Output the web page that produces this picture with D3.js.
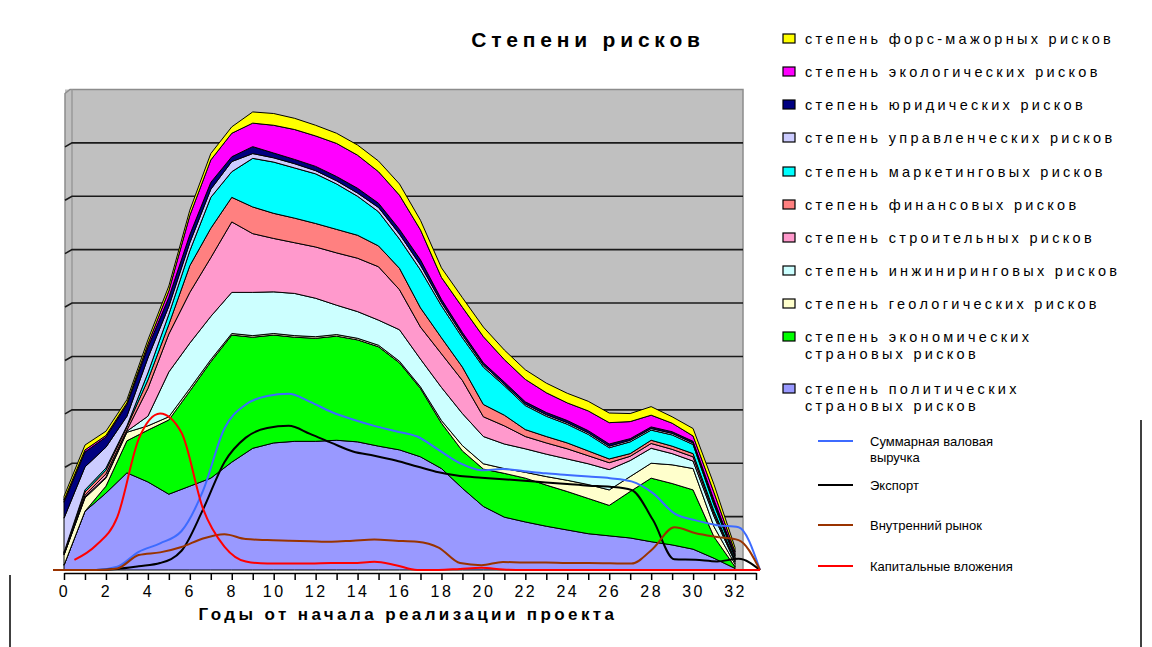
<!DOCTYPE html>
<html>
<head>
<meta charset="utf-8">
<script src="https://cdn.jsdelivr.net/npm/d3@7"></script>
<style>
	body{margin:0;background:#fff;}
	svg{display:block;font-family:"Liberation Sans",Arial,sans-serif;}
</style>
</head>
<body>
<svg id="chart" width="1152" height="647"></svg>
<script>
// years 0..32 for the stacked areas
const years = d3.range(0, 33);

const political    = [0.9, 11.0, 14.4, 18.2, 16.5, 14.2, 15.7, 17.2, 20.2, 22.8, 23.8, 24.1, 24.1, 24.3, 24.0, 23.2, 22.5, 21.2, 19.0, 15.3, 11.9, 9.9, 9.0, 8.2, 7.5, 6.8, 6.4, 6.0, 5.3, 4.7, 3.9, 2.2, 0.3];
const economic     = [0, 0, 1.3, 6.0, 9.7, 13.9, 17.8, 21.8, 23.8, 20.8, 20.2, 19.5, 19.3, 19.5, 19.1, 18.6, 16.3, 12.8, 8.5, 7.0, 7.0, 8.2, 8.2, 7.7, 7.2, 6.6, 5.7, 8.7, 11.9, 11.5, 11.1, 4.0, 0.3];
const geological   = [1.9, 2.5, 1.5, 1.6, 0.8, 0.6, 0.5, 0.4, 0.3, 0.3, 0.3, 0.3, 0.3, 0.3, 0.3, 0.3, 0.3, 0.3, 0.5, 1.0, 1.0, 0.9, 1.1, 1.6, 2.1, 2.6, 2.9, 2.8, 2.8, 3.5, 4.0, 1.9, 0.5];
const engineering  = [0.1, 0.2, 0.2, 0.2, 1.8, 8.4, 8.5, 8.1, 7.7, 8.1, 7.8, 7.9, 7.2, 5.5, 5.0, 4.7, 5.9, 5.2, 6.2, 6.0, 5.1, 4.6, 4.4, 4.2, 4.0, 3.9, 3.8, 3.0, 2.8, 2.1, 1.4, 1.9, 0.4];
const construction = [0.1, 0.3, 0.6, 0.2, 5.2, 7.1, 9.5, 11.0, 13.2, 11.0, 10.0, 9.5, 9.6, 9.8, 10.0, 10.0, 7.5, 6.0, 6.3, 6.2, 3.7, 3.4, 2.3, 2.1, 1.9, 1.5, 1.3, 0.8, 0.9, 0.8, 0.8, 0.5, 0.2];
const financial    = [0.2, 0.6, 0.7, 0.6, 1.6, 1.8, 5.0, 5.5, 4.6, 5.0, 4.7, 4.6, 4.4, 4.4, 4.3, 3.9, 4.0, 3.6, 3.0, 2.5, 2.3, 2.0, 1.3, 1.2, 1.1, 0.9, 0.7, 0.5, 0.6, 0.6, 0.6, 0.5, 0.2];
const marketing    = [0.1, 0.4, 0.4, 0.2, 1.3, 1.9, 2.8, 5.8, 4.8, 9.1, 9.6, 9.4, 9.3, 8.5, 7.3, 6.4, 5.5, 7.1, 6.0, 5.5, 7.0, 5.5, 4.5, 3.8, 3.5, 3.1, 2.1, 2.2, 1.9, 2.1, 1.7, 1.2, 0.4];
const managerial   = [6.4, 4.3, 3.9, 1.8, 2.8, 1.5, 1.5, 1.5, 1.9, 0.9, 0.8, 0.8, 0.6, 0.6, 0.6, 0.8, 0.9, 0.9, 0.6, 0.5, 0.4, 0.3, 0.3, 0.3, 0.3, 0.3, 0.3, 0.3, 0.3, 0.3, 0.3, 0.4, 0.3];
const legal        = [3.0, 2.8, 1.9, 2.2, 2.0, 1.7, 1.5, 1.3, 0.9, 1.3, 0.9, 0.8, 0.8, 0.8, 0.9, 0.8, 0.9, 1.0, 0.6, 0.5, 0.4, 0.4, 0.4, 0.4, 0.4, 0.4, 0.4, 0.3, 0.3, 0.3, 0.3, 0.5, 0.3];
const ecological   = [0.4, 0.4, 0.3, 0.3, 0.6, 1.2, 3.6, 4.2, 4.4, 4.4, 5.2, 5.6, 5.7, 6.2, 6.2, 5.9, 6.4, 5.6, 4.1, 4.7, 4.9, 4.2, 4.2, 3.7, 3.3, 3.7, 4.0, 3.2, 2.2, 1.6, 1.0, 1.4, 0.5];
const forceMajeure = [0.7, 0.9, 0.8, 0.6, 0.8, 0.9, 1.0, 1.2, 1.2, 2.1, 2.2, 2.1, 2.0, 1.9, 1.9, 2.0, 2.1, 1.8, 1.8, 1.8, 1.8, 1.8, 1.8, 1.8, 1.8, 1.8, 1.8, 1.5, 1.6, 1.2, 1.4, 1.5, 0.8];

// line series, on their own category positions 0..33
const linePoints = d3.range(0, 34);
const revenue  = [0, 0, 0, 0.6, 3.4, 5.0, 7.3, 14.8, 26.5, 31.0, 32.6, 33.0, 31.5, 29.6, 28.2, 27.0, 26.0, 25.0, 22.5, 20.0, 18.7, 18.9, 18.5, 18.1, 17.8, 17.5, 17.2, 16.6, 14.4, 10.6, 9.3, 8.4, 8.0, 0];
const exports  = [0, 0, 0, 0.2, 0.7, 1.3, 3.6, 11.3, 20.2, 24.8, 26.6, 27.0, 25.5, 23.8, 22.2, 21.4, 20.5, 19.4, 18.3, 17.6, 17.3, 17.0, 16.7, 16.4, 16.1, 15.8, 15.6, 15.0, 9.4, 2.0, 1.9, 1.6, 2.1, 0];
const domestic = [0, 0, 0, 0.3, 2.8, 3.3, 4.3, 5.9, 6.7, 5.8, 5.6, 5.5, 5.4, 5.3, 5.5, 5.7, 5.5, 5.3, 4.2, 1.3, 0.9, 1.5, 1.4, 1.4, 1.3, 1.3, 1.25, 1.2, 4.0, 8.0, 6.9, 6.2, 5.6, 0];
const capital  = [null, 1.9, 4.6, 9.9, 24.5, 29.3, 25.7, 11.5, 4.4, 1.6, 1.2, 1.2, 1.2, 1.3, 1.3, 1.55, 0.9, 0, 0, 0.2, 0.4, 0.1, 0, 0, 0, 0, 0, 0, 0, 0, 0, 0, 0, 0];

const xTicks = d3.range(0, 34);
const xLabels = d3.range(0, 33, 2);
const gridValues = [10, 20, 30, 40, 50, 60, 70, 80];

const seriesKeys   = ["political", "economic", "geological", "engineering", "construction", "financial", "marketing", "managerial", "legal", "ecological", "forceMajeure"];
const seriesValues = [political, economic, geological, engineering, construction, financial, marketing, managerial, legal, ecological, forceMajeure];
const seriesColors = ["#9999FF", "#00FF00", "#FFFFCC", "#CCFFFF", "#FF99CC", "#FF8080", "#00FFFF", "#CCCCFF", "#000080", "#FF00FF", "#FFFF00"];
const seriesLabels = [
	["степень политических", "страновых рисков"],
	["степень экономических", "страновых рисков"],
	["степень геологических рисков"],
	["степень инжиниринговых рисков"],
	["степень строительных рисков"],
	["степень финансовых рисков"],
	["степень маркетинговых рисков"],
	["степень управленческих рисков"],
	["степень юридических рисков"],
	["степень экологических рисков"],
	["степень форс-мажорных рисков"]
];

const lineSeries = [
	{values: revenue,  color: "#3D6BFF", label: ["Суммарная валовая", "выручка"]},
	{values: exports,  color: "#000000", label: ["Экспорт"]},
	{values: domestic, color: "#993300", label: ["Внутренний рынок"]},
	{values: capital,  color: "#FF0000", label: ["Капитальные вложения"]}
];

const svg = d3.select("#chart");

const x = d3.scaleLinear().domain([0, 33]).range([64, 756]);
const xLine = d3.scaleLinear().domain([0, 33]).range([53, 760]);
const y = d3.scaleLinear().domain([0, 90]).range([570, 89.5]);

const plot = {left: 65, wall: 72, right: 743};

// plot background with left wall
svg.append("rect")
	.attr("x", plot.left).attr("y", y(90))
	.attr("width", plot.right - plot.left).attr("height", y(0) - y(90))
	.attr("fill", "#C0C0C0");
svg.append("path")
	.attr("d", `M${plot.left},${y(0)}V${y(90) + 4}L${plot.wall - 2},${y(90)}H${plot.right}V${y(0)}`)
	.attr("fill", "none").attr("stroke", "#8c8c8c").attr("stroke-width", 1.5);
svg.append("line")
	.attr("x1", plot.wall).attr("x2", plot.wall)
	.attr("y1", y(90)).attr("y2", y(0))
	.attr("stroke", "#9a9a9a").attr("stroke-width", 1.5);

// gridlines
svg.append("g").selectAll("path")
	.data(gridValues)
	.enter().append("path")
	.attr("d", d => `M${plot.left},${y(d) + 4}L${plot.wall},${y(d)}H${plot.right}`)
	.attr("fill", "none")
	.attr("stroke", "#1a1a1a")
	.attr("stroke-width", 1.6);

// stacked areas
const table = years.map((t, i) => {
	const row = {t: t};
	seriesKeys.forEach((k, j) => { row[k] = seriesValues[j][i]; });
	return row;
});
const stacked = d3.stack().keys(seriesKeys)(table);

const area = d3.area()
	.x(d => x(d.data.t))
	.y0(d => y(d[0]))
	.y1(d => y(d[1]));

svg.append("g").selectAll("path")
	.data(stacked)
	.enter().append("path")
	.attr("d", area)
	.attr("fill", (d, i) => seriesColors[i])
	.attr("stroke", "#000")
	.attr("stroke-width", 1)
	.attr("stroke-linejoin", "round");

// x axis
const xAxis = svg.append("g")
	.attr("transform", `translate(0,${y(0) + 3})`)
	.call(d3.axisBottom(x)
		.tickValues(xTicks)
		.tickSize(7)
		.tickSizeOuter(0)
		.tickPadding(6)
		.tickFormat(d => xLabels.includes(d) ? d : ""));
xAxis.select(".domain").attr("stroke", "#000").attr("stroke-width", 1.5);
xAxis.selectAll(".tick line").attr("stroke", "#000").attr("stroke-width", 1.5);
xAxis.selectAll(".tick text")
	.attr("font-size", 16)
	.attr("letter-spacing", 2.5)
	.attr("fill", "#000")
	.attr("font-family", "Liberation Sans, Arial, sans-serif");

// lines
const lineGen = d3.line()
	.defined(d => d[1] !== null)
	.x(d => xLine(d[0]))
	.y(d => y(d[1]))
	.curve(d3.curveMonotoneX);

svg.append("g").selectAll("path")
	.data(lineSeries)
	.enter().append("path")
	.attr("d", s => lineGen(linePoints.map((p, i) => [p, s.values[i]])))
	.attr("fill", "none")
	.attr("stroke", s => s.color)
	.attr("stroke-width", 2);

// titles
svg.append("text")
	.attr("x", 588).attr("y", 47)
	.attr("text-anchor", "middle")
	.attr("font-size", 21).attr("font-weight", "bold")
	.attr("letter-spacing", 4.8)
	.text("Степени рисков");

svg.append("text")
	.attr("x", 408).attr("y", 620)
	.attr("text-anchor", "middle")
	.attr("font-size", 17).attr("font-weight", "bold")
	.attr("letter-spacing", 3.4)
	.text("Годы от начала реализации проекта");

// legend for areas, top item first
const legendRows = [39, 72, 105, 138, 172, 205, 238, 271, 304, 337, 389];
const legend = svg.append("g");
d3.range(seriesKeys.length).reverse().forEach((j, r) => {
	const g = legend.append("g").attr("transform", `translate(783,${legendRows[r]})`);
	g.append("rect")
		.attr("x", 0).attr("y", -5)
		.attr("width", 12).attr("height", 9)
		.attr("fill", seriesColors[j])
		.attr("stroke", "#000").attr("stroke-width", 1.2);
	g.append("text")
		.attr("x", 22).attr("y", 5)
		.attr("font-size", 14.5)
		.attr("letter-spacing", 3.3)
		.selectAll("tspan")
		.data(seriesLabels[j])
		.enter().append("tspan")
		.attr("x", 22)
		.attr("dy", (d, k) => k === 0 ? 0 : 17)
		.text(d => d);
});

// legend for lines
const lineLegendRows = [441, 485, 525, 566];
lineSeries.forEach((s, i) => {
	const g = legend.append("g").attr("transform", `translate(818,${lineLegendRows[i]})`);
	g.append("line")
		.attr("x1", 0).attr("x2", 35)
		.attr("y1", 0).attr("y2", 0)
		.attr("stroke", s.color).attr("stroke-width", 2);
	g.append("text")
		.attr("x", 52).attr("y", 5)
		.attr("font-size", 13)
		.attr("letter-spacing", 0)
		.selectAll("tspan")
		.data(s.label)
		.enter().append("tspan")
		.attr("x", 52)
		.attr("dy", (d, k) => k === 0 ? 0 : 16)
		.text(d => d);
});

// outer frame pieces
svg.append("line").attr("x1", 10).attr("x2", 10).attr("y1", 575).attr("y2", 647)
	.attr("stroke", "#000").attr("stroke-width", 1.5);
svg.append("line").attr("x1", 1141).attr("x2", 1141).attr("y1", 420).attr("y2", 647)
	.attr("stroke", "#000").attr("stroke-width", 1.5);
</script>
</body>
</html>
